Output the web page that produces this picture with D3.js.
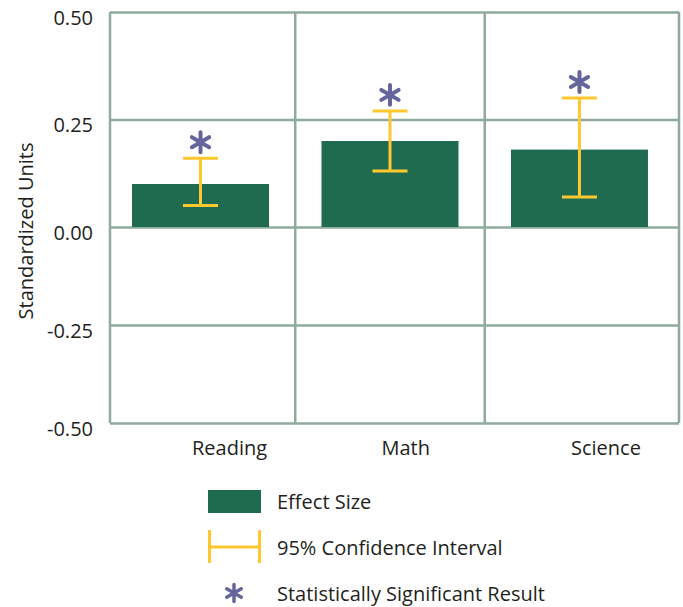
<!DOCTYPE html>
<html>
<head>
<meta charset="utf-8">
<script src="https://cdn.jsdelivr.net/npm/d3@7"></script>
<style>
  body { margin: 0; background: #fff; }
  text { font-family: "Open Sans", sans-serif; fill: #231f20; }
</style>
</head>
<body>
<svg width="683" height="607"></svg>
<script>
// chart values
const subjects = ["Reading", "Math", "Science"];
const effectSize = [0.10, 0.20, 0.18];
const ciLower = [0.05, 0.13, 0.07];
const ciUpper = [0.16, 0.27, 0.30];
const significant = [true, true, true];
const yTicks = [-0.50, -0.25, 0.00, 0.25, 0.50];
const legendLabels = ["Effect Size", "95% Confidence Interval", "Statistically Significant Result"];

const gridColor = "#8eab9d";
const barColor = "#1e6b50";
const ciColor = "#ffc82e";
const starColor = "#66659b";

const plotLeft = 110, plotRight = 679, plotTop = 12, plotBottom = 423;

const svg = d3.select("svg");

const x = d3.scaleBand()
    .domain(subjects)
    .range([plotLeft, plotRight])
    .paddingInner(0.277)
    .paddingOuter(0.14)
    .align(0.415);

const y = d3.scaleLinear()
    .domain([-0.5, 0, 0.5])
    .range([plotBottom, 227, plotTop]);

// horizontal grid + tick labels
const fmt = d3.format(".2f");
const yAxis = svg.append("g")
    .attr("transform", "translate(" + plotLeft + ",0)")
    .call(d3.axisLeft(y)
        .tickValues(yTicks)
        .tickFormat(d => fmt(d).replace("\u2212", "-"))
        .tickSize(-(plotRight - plotLeft))
        .tickPadding(17));
yAxis.select(".domain").remove();
yAxis.selectAll(".tick line")
    .attr("stroke", gridColor)
    .attr("stroke-width", 2.5);
yAxis.selectAll(".tick text")
    .attr("dy", "0.6em")
    .style("font-size", "20px")
    .attr("fill", "#231f20");

// vertical grid lines: plot edges and between categories
const bw = x.bandwidth(), gap = x.step() - bw;
const vLines = [plotLeft].concat(subjects.slice(0, -1).map(s => x(s) + bw + gap / 2)).concat([plotRight]);
svg.selectAll(".vgrid")
    .data(vLines)
    .enter().append("line")
    .attr("class", "vgrid")
    .attr("x1", d => d).attr("x2", d => d)
    .attr("y1", plotTop).attr("y2", plotBottom)
    .attr("stroke", gridColor)
    .attr("stroke-width", 2.5);

// bars
svg.selectAll(".bar")
    .data(subjects)
    .enter().append("rect")
    .attr("class", "bar")
    .attr("x", d => x(d))
    .attr("y", (d, i) => y(effectSize[i]))
    .attr("width", bw)
    .attr("height", (d, i) => y(0) - y(effectSize[i]))
    .attr("fill", barColor);

// confidence intervals
const capW = 35;
const ci = svg.selectAll(".ci")
    .data(subjects)
    .enter().append("g")
    .attr("class", "ci")
    .attr("stroke", ciColor)
    .attr("stroke-width", 3);
ci.append("line")
    .attr("x1", d => x(d) + bw / 2).attr("x2", d => x(d) + bw / 2)
    .attr("y1", (d, i) => y(ciLower[i])).attr("y2", (d, i) => y(ciUpper[i]));
ci.append("line")
    .attr("x1", d => x(d) + bw / 2 - capW / 2).attr("x2", d => x(d) + bw / 2 + capW / 2)
    .attr("y1", (d, i) => y(ciUpper[i])).attr("y2", (d, i) => y(ciUpper[i]));
ci.append("line")
    .attr("x1", d => x(d) + bw / 2 - capW / 2).attr("x2", d => x(d) + bw / 2 + capW / 2)
    .attr("y1", (d, i) => y(ciLower[i])).attr("y2", (d, i) => y(ciLower[i]));

// significance asterisks
const star = d3.symbol().type(d3.symbolAsterisk).size(280);
svg.selectAll(".star")
    .data(subjects.filter((d, i) => significant[i]))
    .enter().append("path")
    .attr("class", "star")
    .attr("d", star)
    .attr("transform", d => "translate(" + (x(d) + bw / 2) + "," + (y(ciUpper[subjects.indexOf(d)]) - 16) + ")")
    .attr("fill", "none")
    .attr("stroke", starColor)
    .attr("stroke-width", 4)
    .attr("stroke-linecap", "round");

// category labels
svg.selectAll(".cat")
    .data(subjects)
    .enter().append("text")
    .attr("class", "cat")
    .attr("x", d => x(d) + 60)
    .attr("y", 455)
    .style("font-size", "20px")
    .text(d => d);

// y axis title
svg.append("text")
    .attr("transform", "translate(33,231) rotate(-90)")
    .attr("text-anchor", "middle")
    .style("font-size", "20px")
    .text("Standardized Units");

// legend
const lg = svg.append("g");
lg.append("rect")
    .attr("x", 208).attr("y", 490)
    .attr("width", 53).attr("height", 23)
    .attr("fill", barColor);
const ciL = lg.append("g").attr("stroke", ciColor).attr("stroke-width", 3);
ciL.append("line").attr("x1", 209.5).attr("x2", 209.5).attr("y1", 530).attr("y2", 563);
ciL.append("line").attr("x1", 259.5).attr("x2", 259.5).attr("y1", 530).attr("y2", 563);
ciL.append("line").attr("x1", 209.5).attr("x2", 259.5).attr("y1", 547).attr("y2", 547);
lg.append("path")
    .attr("d", d3.symbol().type(d3.symbolAsterisk).size(200)())
    .attr("transform", "translate(234,593)")
    .attr("fill", "none")
    .attr("stroke", starColor)
    .attr("stroke-width", 3.5)
    .attr("stroke-linecap", "round");
lg.selectAll(".lgtext")
    .data(legendLabels)
    .enter().append("text")
    .attr("class", "lgtext")
    .attr("x", 277)
    .attr("y", (d, i) => 509 + i * 46)
    .style("font-size", "20px")
    .text(d => d);
</script>
</body>
</html>
